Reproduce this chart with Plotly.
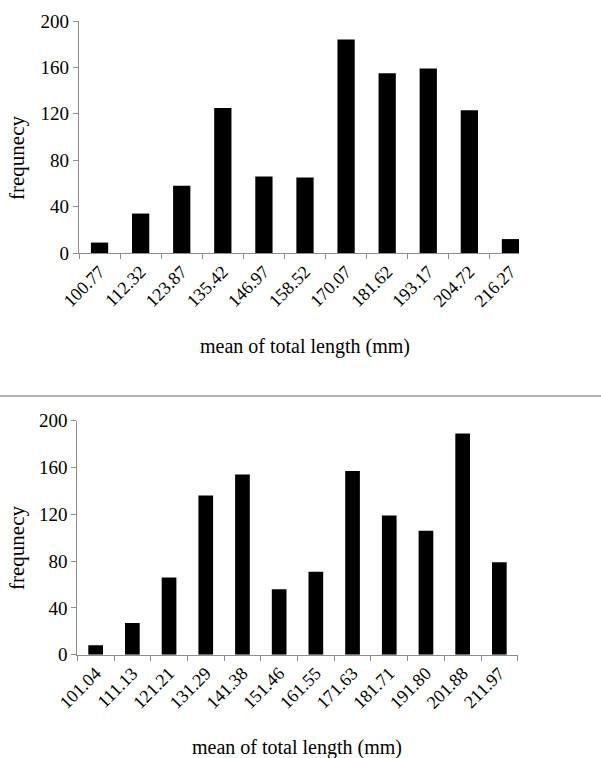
import plotly.graph_objects as go

# ---- data ----
top_categories = ["100.77", "112.32", "123.87", "135.42", "146.97", "158.52",
                  "170.07", "181.62", "193.17", "204.72", "216.27"]
top_values = [9, 34, 58, 125, 66, 65, 184, 155, 159, 123, 12]

bottom_categories = ["101.04", "111.13", "121.21", "131.29", "141.38", "151.46",
                     "161.55", "171.63", "181.71", "191.80", "201.88", "211.97"]
bottom_values = [8, 27, 66, 136, 154, 56, 71, 157, 119, 106, 189, 79]

y_ticks = [0, 40, 80, 120, 160, 200]
x_title = "mean of total length (mm)"
y_title = "frequnecy"

W, H = 601, 758
FONT = "Liberation Serif, Times New Roman, serif"
AXIS_COLOR = "#8c8c8c"


def px_x(p):
    return p / W


def px_y(p):
    return 1 - p / H


TOP_BAR_W = 0.42
top_cat_px = (531 - 79) / 11.0
top_range_end = len(top_categories) - 1 + TOP_BAR_W / 2
top_x_end = 79 + top_cat_px * (top_range_end + 0.5)

fig = go.Figure()
fig.add_trace(go.Bar(x=top_categories, y=top_values, marker_color="black",
                     marker_line_width=0, width=TOP_BAR_W, xaxis="x", yaxis="y",
                     showlegend=False))
fig.add_trace(go.Bar(x=bottom_categories, y=bottom_values, marker_color="black",
                     marker_line_width=0, width=0.4, xaxis="x2", yaxis="y2",
                     showlegend=False))

xcommon = dict(type="category", tickson="boundaries", ticks="outside", ticklen=5,
               tickcolor=AXIS_COLOR, tickwidth=1, showline=True, linecolor=AXIS_COLOR,
               linewidth=1.2, showgrid=False, zeroline=False, tickangle=-45,
               automargin=False,
               tickfont=dict(family=FONT, size=18, color="black"))
ycommon = dict(range=[0, 200], tickvals=y_ticks, ticks="outside", ticklen=5,
               tickcolor=AXIS_COLOR, tickwidth=1, showline=True, linecolor=AXIS_COLOR,
               linewidth=1.2, showgrid=False, zeroline=False, automargin=False,
               tickfont=dict(family=FONT, size=19, color="black"))

fig.update_layout(
    template="none",
    width=W, height=H, autosize=False,
    margin=dict(l=0, r=0, t=0, b=0, pad=0),
    paper_bgcolor="white", plot_bgcolor="white",
    xaxis=dict(domain=[px_x(79), px_x(top_x_end)], anchor="y",
               range=[-0.5, top_range_end], **xcommon),
    yaxis=dict(domain=[px_y(253), px_y(21)], anchor="x", **ycommon),
    xaxis2=dict(domain=[px_x(77.3), px_x(517.7)], anchor="y2", **xcommon),
    yaxis2=dict(domain=[px_y(654.7), px_y(420.7)], anchor="x2", **ycommon),
    shapes=[dict(type="line", xref="paper", yref="paper", x0=0, x1=1,
                 y0=px_y(396), y1=px_y(396), line=dict(color="#999999", width=1.5))],
    annotations=[
        dict(text=x_title, xref="paper", yref="paper", x=px_x(305), y=px_y(346),
             showarrow=False, xanchor="center", yanchor="middle",
             font=dict(family=FONT, size=20, color="black")),
        dict(text=x_title, xref="paper", yref="paper", x=px_x(297), y=px_y(747),
             showarrow=False, xanchor="center", yanchor="middle",
             font=dict(family=FONT, size=20, color="black")),
        dict(text=y_title, xref="paper", yref="paper", x=px_x(17), y=px_y(158),
             showarrow=False, xanchor="center", yanchor="middle", textangle=-90,
             font=dict(family=FONT, size=21, color="black")),
        dict(text=y_title, xref="paper", yref="paper", x=px_x(17), y=px_y(548),
             showarrow=False, xanchor="center", yanchor="middle", textangle=-90,
             font=dict(family=FONT, size=21, color="black")),
    ],
)

fig.write_html("out.html", config={"displayModeBar": False},
               post_script="document.body.style.margin='0';document.body.style.overflow='hidden';")
